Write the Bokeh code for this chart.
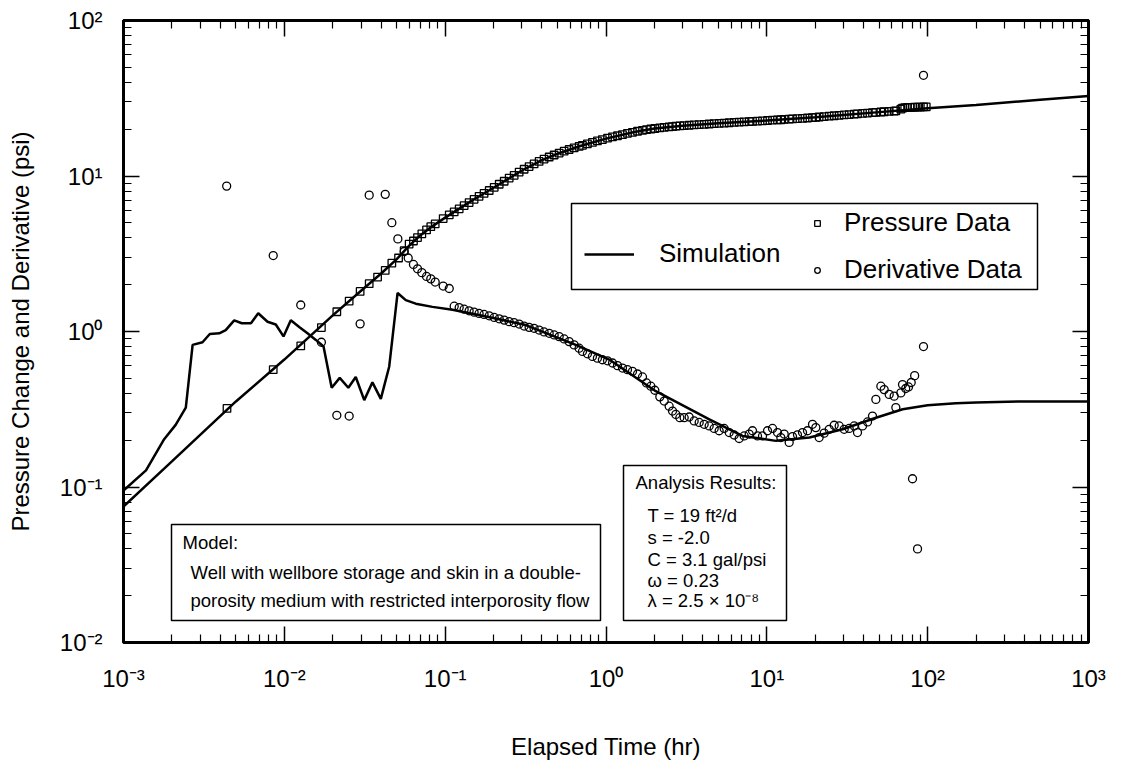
from bokeh.plotting import figure
from bokeh.models import (Range1d, LogAxis, FixedTicker, CustomJSTickFormatter,
                          Legend, LegendItem, BoxAnnotation, Label)
from bokeh.embed import file_html
from bokeh.resources import INLINE

FONT = "Liberation Sans"

# ---------------- data ----------------
x_major = [1e-3, 1e-2, 1e-1, 1e0, 1e1, 1e2, 1e3]
y_major = [1e-2, 1e-1, 1e0, 1e1, 1e2]
mantissas = [2, 3, 4, 5, 6, 7, 8, 9]

# simulated pressure change
sim_p_t = [0.001, 0.002, 0.005, 0.01, 0.02, 0.03, 0.04, 0.05, 0.06, 0.07,
           0.08, 0.1, 0.15, 0.2, 0.3, 0.4, 0.5, 0.7, 1.0, 1.5,
           2.0, 3.0, 5.0, 10.0, 20.0, 50.0, 100.0, 200.0, 500.0, 1000.0]
sim_p = [0.0748, 0.146, 0.355, 0.66, 1.27, 1.83, 2.36, 2.92, 3.58, 4.15,
         4.62, 5.4, 7.05, 8.4, 10.85, 12.65, 13.9, 15.65, 17.4, 19.2,
         20.2, 21.05, 21.8, 22.75, 23.85, 25.75, 27.3, 28.6, 30.9, 32.7]

# simulated derivative
sim_d_t = [0.001, 0.00138, 0.00179, 0.00211, 0.00244, 0.00269, 0.0031, 0.00344, 0.00394, 0.00432,
           0.00488, 0.00544, 0.0062, 0.00688, 0.00786, 0.00885, 0.00988, 0.01097, 0.01237, 0.01393,
           0.0157, 0.01753, 0.0197, 0.0221, 0.025, 0.0278, 0.0314, 0.0353, 0.0398, 0.0449,
           0.0506, 0.0569, 0.0656, 0.0834, 0.111, 0.2, 0.317, 0.649, 1.047, 2.04,
           4.39, 7.06, 11.4, 18.4, 29.6, 47.7, 69.9, 100.0, 150.0, 200.0,
           400.0, 1000.0]
sim_d = [0.095, 0.128, 0.203, 0.251, 0.324, 0.82, 0.853, 0.964, 0.974, 1.02,
         1.18, 1.13, 1.13, 1.31, 1.155, 1.11, 0.93, 1.18, 1.07, 0.974,
         0.883, 0.80, 0.435, 0.503, 0.435, 0.51, 0.362, 0.471, 0.369, 0.596,
         1.77, 1.59, 1.51, 1.44, 1.38, 1.22, 1.10, 0.82, 0.66, 0.413,
         0.272, 0.213, 0.198, 0.208, 0.235, 0.279, 0.316, 0.335, 0.345, 0.35,
         0.355, 0.355]

# measured pressure change (squares)
press_t = [0.0044, 0.00853, 0.01265, 0.0170, 0.0212, 0.0253, 0.0296, 0.0337, 0.0380, 0.0424,
           0.0466, 0.0513, 0.0556, 0.0597, 0.0635, 0.0673, 0.0716, 0.0766, 0.0814, 0.0867,
           0.0972, 0.106,
           0.1138, 0.1222, 0.1312, 0.1409, 0.1513, 0.1625, 0.1745, 0.1879, 0.2018, 0.2168,
           0.2328, 0.2500, 0.2685, 0.2884, 0.3097, 0.3326, 0.3572, 0.3837, 0.4120, 0.4433,
           0.4760, 0.5114, 0.5492, 0.5898, 0.6335, 0.6804, 0.7138, 0.7666, 0.8234, 0.8843,
           0.9498, 1.022, 1.098, 1.179, 1.266, 1.360, 1.461, 1.570, 1.686, 1.786,
           1.900, 2.012, 2.161, 2.300, 2.470, 2.592, 2.718, 2.878, 3.062, 3.289,
           3.533, 3.796, 4.077, 4.380, 4.705, 5.054, 5.429, 5.833, 6.266, 6.730,
           7.230, 7.767, 8.145, 8.750, 9.399, 10.10, 10.85, 11.65, 12.22, 12.82,
           13.77, 14.44, 15.51, 16.67, 17.90, 19.23, 20.17, 21.15, 22.73, 24.42,
           26.22, 28.17, 30.26, 32.51, 34.91, 36.62, 39.34, 42.27, 45.39, 47.63,
           51.16, 53.65, 57.64, 61.91, 63.41, 68.11, 69.76,
           72.0, 75.0, 78.0, 80.5, 83.0, 86.5, 90.0, 94.2, 98.0]
press = [0.32, 0.568, 0.808, 1.06, 1.34, 1.57, 1.81, 2.03, 2.24, 2.47,
         2.75, 2.97, 3.31, 3.65, 3.82, 4.02, 4.24, 4.50, 4.72, 4.92,
         5.32, 5.62,
         5.88, 6.15, 6.45, 6.75, 7.08, 7.40, 7.73, 8.07, 8.45, 8.85,
         9.25, 9.70, 10.1, 10.6, 11.05, 11.5, 11.95, 12.4, 12.85, 13.25,
         13.65, 14.05, 14.45, 14.8, 15.15, 15.5, 15.75, 16.1, 16.45, 16.8,
         17.15, 17.5, 17.85, 18.15, 18.45, 18.8, 19.1, 19.4, 19.65, 19.85,
         20.05, 20.2, 20.4, 20.55, 20.7, 20.8, 20.9, 21.0, 21.1, 21.2,
         21.3, 21.4, 21.5, 21.6, 21.7, 21.8, 21.9, 22.0, 22.1, 22.2,
         22.3, 22.4, 22.45, 22.55, 22.65, 22.75, 22.85, 22.95, 23.0, 23.1,
         23.2, 23.3, 23.4, 23.5, 23.6, 23.75, 23.85, 23.95, 24.1, 24.25,
         24.4, 24.55, 24.7, 24.85, 25.0, 25.1, 25.25, 25.4, 25.55, 25.65,
         25.8, 25.9, 26.0, 26.15, 26.2, 26.9, 27.3,
         27.5, 27.6, 27.6, 27.6, 27.7, 27.7, 27.7, 27.8, 27.8]

# measured derivative (circles)
deriv_t = [0.00438, 0.00853, 0.01265, 0.0170, 0.0212, 0.0253, 0.0296, 0.0337, 0.0424, 0.0466,
           0.0508, 0.0556, 0.0589, 0.0635, 0.0673, 0.0716, 0.0766, 0.0814, 0.0867, 0.0972,
           0.106,
           0.1138, 0.1222, 0.1312, 0.1409, 0.1513, 0.1625, 0.1745, 0.1879, 0.2018, 0.2168,
           0.2328, 0.2500, 0.2685, 0.2884, 0.3097, 0.3326, 0.3572, 0.3837, 0.4120, 0.4433,
           0.4760, 0.5114, 0.5492, 0.5898, 0.6335, 0.6804, 0.7138, 0.7666, 0.8234, 0.8843,
           0.9498, 1.022, 1.098, 1.179, 1.266, 1.360, 1.461, 1.570, 1.686, 1.786,
           1.900, 2.012, 2.161, 2.300, 2.470, 2.592, 2.718, 2.878, 3.062, 3.289,
           3.533, 3.796, 4.077, 4.380, 4.705, 5.054, 5.429, 5.833, 6.266, 6.730,
           7.230, 7.767, 8.145, 8.750, 9.399, 10.10, 10.85, 11.65, 12.22, 12.82,
           13.77, 14.44, 15.51, 16.67, 17.90, 19.23, 20.17, 21.15, 22.73, 24.42,
           26.22, 28.17, 30.26, 32.51, 34.91, 36.62, 39.34, 42.27, 45.39, 47.63,
           51.16, 53.65, 57.64, 61.91, 63.41, 68.11, 69.76,
           73.0, 76.0, 79.0, 80.5, 83.0, 86.5, 94.2, 94.2]
deriv = [8.61, 3.08, 1.48, 0.853, 0.289, 0.286, 1.12, 7.53, 7.62, 5.01,
         3.94, 3.27, 2.97, 2.70, 2.53, 2.39, 2.26, 2.18, 2.08, 1.96,
         1.89,
         1.455, 1.426, 1.392, 1.358, 1.332, 1.306, 1.287, 1.262, 1.231, 1.207,
         1.184, 1.156, 1.139, 1.117, 1.084, 1.063, 1.048, 1.022, 0.993, 0.974,
         0.950, 0.927, 0.896, 0.861, 0.820, 0.781, 0.744, 0.719, 0.691, 0.674,
         0.658, 0.648, 0.627, 0.603, 0.582, 0.568, 0.554, 0.533, 0.510, 0.467,
         0.445, 0.419, 0.380, 0.357, 0.331, 0.308, 0.293, 0.279, 0.279, 0.282,
         0.266, 0.260, 0.253, 0.247, 0.238, 0.230, 0.238, 0.224, 0.216, 0.205,
         0.213, 0.219, 0.230, 0.213, 0.213, 0.230, 0.238, 0.224, 0.208, 0.219,
         0.1934, 0.211, 0.2165, 0.224, 0.230, 0.253, 0.241, 0.208, 0.222, 0.235,
         0.2495, 0.247, 0.235, 0.238, 0.247, 0.224, 0.247, 0.262, 0.286, 0.366,
         0.445, 0.423, 0.394, 0.384, 0.324, 0.403, 0.456,
         0.43, 0.44, 0.47, 0.113, 0.52, 0.040, 0.80, 44.4]

model_lines = ["Model:",
               "Well with wellbore storage and skin in a double-",
               "porosity medium with restricted interporosity flow"]
result_lines = ["Analysis Results:",
                "T = 19 ft\u00b2/d",
                "s  = -2.0",
                "C = 3.1 gal/psi",
                "\u03c9 = 0.23",
                "\u03bb = 2.5 \u00d7 10\u207b\u2078"]

# ---------------- figure ----------------
p = figure(width=1108, height=762, x_axis_type="log", y_axis_type="log",
           x_range=Range1d(1e-3, 1e3), y_range=Range1d(1e-2, 1e2),
           output_backend="svg", toolbar_location=None,
           min_border_left=123, min_border_right=20,
           min_border_top=20, min_border_bottom=115)
p.grid.visible = False
p.background_fill_color = "white"
p.border_fill_color = "white"
p.outline_line_color = "black"
p.outline_line_width = 3

x_minor = [m * 10.0 ** k for k in range(-3, 3) for m in mantissas]
y_minor = [m * 10.0 ** k for k in range(-2, 2) for m in mantissas]

pow_fmt = CustomJSTickFormatter(code="""
const e = Math.round(Math.log10(tick));
const m = {"-": "\u207b", "0": "\u2070", "1": "\u00b9", "2": "\u00b2", "3": "\u00b3",
           "4": "\u2074", "5": "\u2075", "6": "\u2076", "7": "\u2077", "8": "\u2078", "9": "\u2079"};
return "10" + String(e).split("").map(c => m[c]).join("");
""")
blank_fmt = CustomJSTickFormatter(code='return "";')


def style_axis(ax, ticks, minor, labelled):
    ax.ticker = FixedTicker(ticks=ticks, minor_ticks=minor)
    ax.axis_line_width = 3
    ax.axis_line_color = "black"
    ax.major_tick_in = 16
    ax.major_tick_out = 0
    ax.minor_tick_in = 8
    ax.minor_tick_out = 0
    ax.major_tick_line_width = 1.5
    ax.minor_tick_line_width = 1.2
    ax.major_tick_line_color = "black"
    ax.minor_tick_line_color = "black"
    if labelled:
        ax.formatter = pow_fmt
        ax.major_label_text_font = FONT
        ax.major_label_text_font_size = "24px"
        ax.major_label_text_color = "black"
        ax.axis_label_text_font = FONT
        ax.axis_label_text_font_size = "24px"
        ax.axis_label_text_font_style = "normal"
        ax.axis_label_text_color = "black"
    else:
        ax.formatter = blank_fmt
        ax.major_label_text_font_size = "0px"
        ax.major_label_standoff = 0


xa = p.xaxis[0]
ya = p.yaxis[0]
style_axis(xa, x_major, x_minor, True)
style_axis(ya, y_major, y_minor, True)
xa.axis_label = "Elapsed Time (hr)"
ya.axis_label = "Pressure Change and Derivative (psi)"
xa.major_label_standoff = 22
xa.axis_label_standoff = 38
ya.major_label_standoff = 21
ya.axis_label_standoff = 23

top_ax = LogAxis()
right_ax = LogAxis()
style_axis(top_ax, x_major, x_minor, False)
style_axis(right_ax, y_major, y_minor, False)
p.add_layout(top_ax, "above")
p.add_layout(right_ax, "right")

# ---------------- glyphs ----------------
r_sim_p = p.line(sim_p_t, sim_p, line_color="black", line_width=2.5)
r_sim_d = p.line(sim_d_t, sim_d, line_color="black", line_width=2.5)
r_p = p.scatter(press_t, press, marker="square", size=7.5, fill_color=None,
                line_color="black", line_width=1.3)
r_d = p.scatter(deriv_t, deriv, marker="circle", size=8, fill_color=None,
                line_color="black", line_width=1.3)

# ---------------- boxes and texts ----------------
def sbox(l, r, b, t):
    return BoxAnnotation(left=l, right=r, bottom=b, top=t,
                         left_units="screen", right_units="screen",
                         bottom_units="screen", top_units="screen",
                         fill_color="white", fill_alpha=1.0,
                         line_color="black", line_width=1.5, line_alpha=1.0)


p.add_layout(sbox(448, 914, 353, 439))   # legend frame
p.add_layout(sbox(48, 477, 22, 118))     # model
p.add_layout(sbox(500, 663, 22, 177))    # analysis results

model_pos = [(59, 100), (67, 70), (67, 42)]
for txt, (lx, ly) in zip(model_lines, model_pos):
    p.add_layout(Label(x=lx, y=ly, x_units="screen", y_units="screen", text=txt,
                       text_font=FONT, text_font_size="18.5px", text_color="black",
                       text_baseline="middle", text_align="left"))

result_pos = [(512, 160), (524, 127), (524, 105), (524, 83), (524, 62), (524, 42)]
for txt, (lx, ly) in zip(result_lines, result_pos):
    p.add_layout(Label(x=lx, y=ly, x_units="screen", y_units="screen", text=txt,
                       text_font=FONT, text_font_size="18.5px", text_color="black",
                       text_baseline="middle", text_align="left"))

# ---------------- legend ----------------
leg_sim = Legend(items=[LegendItem(label="Simulation", renderers=[r_sim_p])],
                 location=(461, 373), glyph_width=50, glyph_height=20,
                 label_standoff=25, padding=0, margin=0, spacing=0,
                 background_fill_alpha=0, border_line_alpha=0,
                 label_text_font=FONT, label_text_font_size="26px",
                 label_text_color="black")
leg_data = Legend(items=[LegendItem(label="Pressure Data", renderers=[r_p]),
                         LegendItem(label="Derivative Data", renderers=[r_d])],
                  location=(687, 357), glyph_width=14, glyph_height=14,
                  label_standoff=20, padding=0, margin=0, spacing=16,
                  background_fill_alpha=0, border_line_alpha=0,
                  label_text_font=FONT, label_text_font_size="26px",
                  label_text_color="black")
p.add_layout(leg_sim)
p.add_layout(leg_data)

open("out.html", "w").write(file_html(p, INLINE))
